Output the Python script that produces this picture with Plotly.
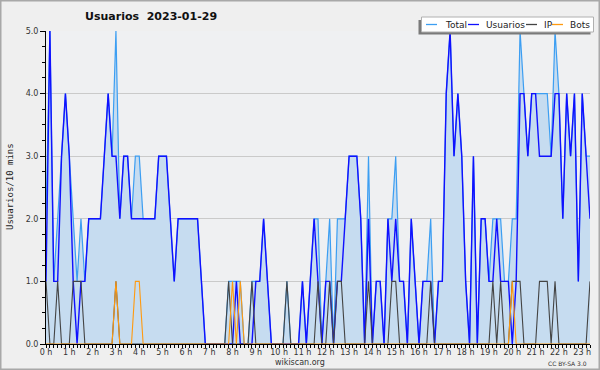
import plotly.graph_objects as go

# 10-minute slots, 2023-01-29
total = [2,5,1,2,3,4,3,2,1,2,
         1,2,2,2,2,3,4,3,5,2,
         3,3,2,3,3,2,2,2,2,3,
         3,3,2,1,2,2,2,2,2,2,
         1,0,0,0,0,0,0,1,1,1,
         1,0,0,1,1,1,2,1,0,0,
         0,0,1,0,0,0,1,0,1,2,
         2,0,1,2,0,2,2,2,3,3,
         3,2,0,3,0,1,1,0,2,2,
         3,1,1,0,2,1,0,1,1,2,
         0,1,1,4,5,3,4,3,1,0,
         3,0,2,2,1,2,2,2,1,1,
         2,2,5,4,3,4,4,4,4,4,
         3,5,4,2,4,3,4,1,4,3,
         3]
usuarios = [1,5,1,1,3,4,3,1,0,1,
            1,2,2,2,2,3,4,3,3,2,
            3,3,2,2,2,2,2,2,2,3,
            3,3,2,1,2,2,2,2,2,2,
            1,0,0,0,0,0,0,0,0,1,
            0,0,0,0,1,1,2,1,0,0,
            0,0,0,0,0,0,1,0,1,2,
            1,0,1,1,0,1,1,2,3,3,
            3,2,0,2,0,1,1,0,2,1,
            2,1,1,0,2,1,0,1,1,1,
            0,1,1,4,5,3,4,3,1,0,
            3,0,2,2,1,1,2,1,1,1,
            0,1,4,4,3,4,4,3,3,3,
            3,4,4,2,4,3,4,1,4,3,
            2]
ip = [1,0,0,1,0,0,0,1,1,1,
      0,0,0,0,0,0,0,0,1,0,
      0,0,0,0,0,0,0,0,0,0,
      0,0,0,0,0,0,0,0,0,0,
      0,0,0,0,0,0,0,1,0,0,
      0,0,0,1,0,0,0,0,0,0,
      0,0,1,0,0,0,0,0,0,0,
      1,0,0,1,0,1,1,0,0,0,
      0,0,0,1,0,0,0,0,0,1,
      1,0,0,0,0,0,0,0,0,1,
      0,0,0,0,0,0,0,0,0,0,
      0,0,0,0,0,1,0,1,0,0,
      1,1,1,0,0,0,0,1,1,1,
      0,1,0,0,0,0,0,0,0,0,
      1]
bots = [0,0,0,0,0,0,0,0,0,0,
        0,0,0,0,0,0,0,0,1,0,
        0,0,0,1,1,0,0,0,0,0,
        0,0,0,0,0,0,0,0,0,0,
        0,0,0,0,0,0,0,0,1,0,
        1,0,0,0,0,0,0,0,0,0,
        0,0,0,0,0,0,0,0,0,0,
        0,0,0,0,0,0,0,0,0,0,
        0,0,0,0,0,0,0,0,0,0,
        0,0,0,0,0,0,0,0,0,0,
        0,0,0,0,0,0,0,0,0,0,
        0,0,0,0,0,0,0,0,0,0,
        1,0,0,0,0,0,0,0,0,0,
        0,0,0,0,0,0,0,0,0,0,
        0]
hours = [i / 6 for i in range(len(total))]

C_TOTAL = '#3c9ef2'
C_USU = '#1010ff'
C_IP = '#444444'
C_BOTS = '#ff9a10'

W, H = 600, 370
ML, MR, MT, MB = 46, 10, 31, 26
PW, PH = W - ML - MR, H - MT - MB

def px(x):
    return (x - ML) / PW

def py(y):
    return (H - MB - y) / PH

fig = go.Figure()
fig.add_trace(go.Scatter(x=hours, y=total, mode='lines', name='Total',
                         line=dict(color=C_TOTAL, width=1.2),
                         fill='tozeroy', fillcolor='#c6dcf0'))
fig.add_trace(go.Scatter(x=hours, y=usuarios, mode='lines', name='Usuarios',
                         line=dict(color=C_USU, width=1.4)))
fig.add_trace(go.Scatter(x=hours, y=ip, mode='lines', name='IP',
                         line=dict(color=C_IP, width=1.1)))
fig.add_trace(go.Scatter(x=hours, y=bots, mode='lines', name='Bots',
                         line=dict(color=C_BOTS, width=1.1)))

shapes = []
annotations = []
# outer frame
shapes.append(dict(type='rect', xref='paper', yref='paper',
                   x0=px(0.75), x1=px(W - 0.75), y0=py(0.75), y1=py(H - 0.75),
                   line=dict(color='#a8a8a8', width=1.5), layer='above'))
# legend box with shadow
shapes.append(dict(type='rect', xref='paper', yref='paper',
                   x0=px(418.5), x1=px(590.5), y0=py(20), y1=py(34.5),
                   fillcolor='#7a7a7a', line=dict(width=0), layer='above'))
shapes.append(dict(type='rect', xref='paper', yref='paper',
                   x0=px(421.5), x1=px(593.5), y0=py(17), y1=py(32),
                   fillcolor='#ffffff', line=dict(color='#b0b0b0', width=1), layer='above'))
legend_items = [('Total', C_TOTAL, 426, 442.5),
                ('Usuarios', C_USU, 468, 484),
                ('IP', C_IP, 526, 542),
                ('Bots', C_BOTS, 552, 568)]
for name, col, lx, tx in legend_items:
    shapes.append(dict(type='line', xref='paper', yref='paper',
                       x0=px(lx), x1=px(lx + 11), y0=py(24.5), y1=py(24.5),
                       line=dict(color=col, width=1.3), layer='above'))
    annotations.append(dict(text=name, xref='paper', yref='paper',
                            x=px(tx), y=py(24.5), xanchor='left', yanchor='middle',
                            showarrow=False,
                            font=dict(family='DejaVu Sans', size=9, color='#222')))

# y-axis title
annotations.append(dict(text='Usuarios/10 mins', xref='paper', yref='paper',
                        x=px(10), y=py(187), textangle=-90, showarrow=False,
                        xanchor='center', yanchor='middle',
                        font=dict(family='DejaVu Sans Mono', size=9, color='#222')))
# footer
annotations.append(dict(text='wikiscan.org', xref='paper', yref='paper',
                        x=px(300), y=py(362), showarrow=False,
                        xanchor='center', yanchor='middle',
                        font=dict(family='DejaVu Sans', size=8, color='#333')))
annotations.append(dict(text='CC BY-SA 3.0', xref='paper', yref='paper',
                        x=px(589), y=py(363), showarrow=False,
                        xanchor='right', yanchor='middle',
                        font=dict(family='DejaVu Sans', size=6, color='#333')))

fig.update_layout(
    width=W, height=H,
    margin=dict(l=ML, r=MR, t=MT, b=MB),
    paper_bgcolor='#efefef',
    plot_bgcolor='#eff0f2',
    showlegend=False,
    title=dict(text='<b>Usuarios\u00a0\u00a02023-01-29</b>', xref='container', yref='container',
               x=85 / W, y=1 - 16 / H, xanchor='left', yanchor='middle',
               font=dict(family='DejaVu Sans', size=11, color='#111')),
    shapes=shapes,
    annotations=annotations,
    font=dict(family='DejaVu Sans', size=8, color='#333'),
)
fig.update_xaxes(range=[0, hours[-1]], tickmode='linear', tick0=0, dtick=1,
                 ticksuffix=' h', ticks='outside', ticklen=3, tickcolor='black',
                 ticklabelstandoff=-3,
                 showline=True, linecolor='black', linewidth=1, showgrid=False,
                 zeroline=False, tickfont=dict(size=8, color='#333'),
                 minor=dict(dtick=1 / 6, ticks='outside', ticklen=3, tickcolor='black', showgrid=False))
fig.update_yaxes(range=[0, 5], tickmode='linear', tick0=0, dtick=1, tickformat='.1f',
                 ticks='outside', ticklen=5, tickcolor='black',
                 showline=True, linecolor='black', linewidth=1,
                 showgrid=True, gridcolor='#cacaca', gridwidth=1, zeroline=False,
                 tickfont=dict(size=8, color='#333'),
                 minor=dict(dtick=0.25, ticks='outside', ticklen=3, tickcolor='black', showgrid=False))

fig.write_html("out.html", config={'displayModeBar': False},
               post_script="document.body.style.margin='0';document.body.style.overflow='hidden';")
